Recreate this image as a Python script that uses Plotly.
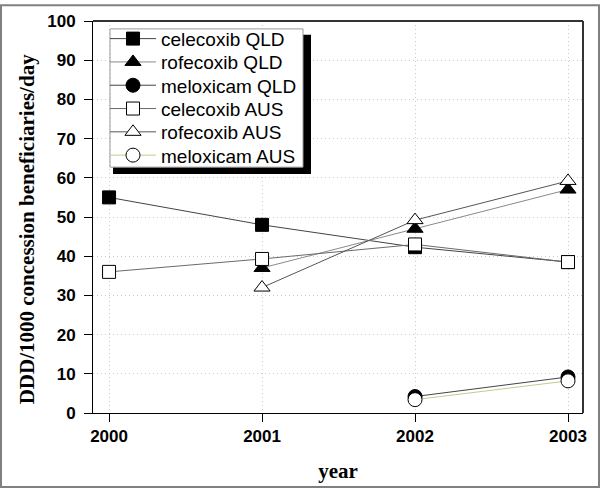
import plotly.graph_objects as go

years = [2000, 2001, 2002, 2003]

celecoxib_qld = [55, 48, 42.3, 38.5]
rofecoxib_qld = [None, 37, 47, 57]
meloxicam_qld = [None, None, 4.2, 9.2]
celecoxib_aus = [36, 39.3, 43, 38.5]
rofecoxib_aus = [None, 32, 49.2, 59.2]
meloxicam_aus = [None, None, 3.4, 8.2]

SANS = "Liberation Sans, Arial, sans-serif"
SERIF = "Liberation Serif, Times New Roman, serif"

# plot area in pixels (used to place shapes in paper coords)
L, R, T, B = 93, 583, 17, 414
W, H = 600, 490


def px_x(x):
    return (x - L) / (R - L)


def px_y(y):
    return (B - y) / (B - T)


def _series(y, name, symbol, fill, line_color, legend):
    return go.Scatter(
        x=years,
        y=y,
        name=name,
        legend=legend,
        mode="lines+markers",
        line={"color": line_color, "width": 1},
        marker={
            "symbol": symbol,
            "size": 13 if symbol == "square" else 14,
            "color": fill,
            "line": {"color": "black", "width": 1},
        },
    )


fig = go.Figure()
fig.add_trace(_series(celecoxib_qld, "celecoxib QLD", "square", "black", "#444444", "legend"))
fig.add_trace(_series(rofecoxib_qld, "rofecoxib QLD", "triangle-up", "black", "#8a8a8a", "legend2"))
fig.add_trace(_series(meloxicam_qld, "meloxicam QLD", "circle", "black", "#444444", "legend3"))
fig.add_trace(_series(celecoxib_aus, "celecoxib AUS", "square", "white", "#6a6a6a", "legend4"))
fig.add_trace(_series(rofecoxib_aus, "rofecoxib AUS", "triangle-up", "white", "#555555", "legend5"))
fig.add_trace(_series(meloxicam_aus, "meloxicam AUS", "circle", "white", "#c8c890", "legend6"))

shapes = [
    # legend shadow and box
    dict(type="rect", xref="paper", yref="paper",
         x0=px_x(113), x1=px_x(311), y0=px_y(172), y1=px_y(31),
         fillcolor="black", line={"width": 0}),
    dict(type="rect", xref="paper", yref="paper",
         x0=px_x(110), x1=px_x(303), y0=px_y(165), y1=px_y(25),
         fillcolor="white", line={"color": "#999999", "width": 1}),
    # top and right frame
    dict(type="line", xref="paper", yref="paper", x0=0, x1=1, y0=1, y1=1,
         line={"color": "#333333", "width": 2}),
    dict(type="line", xref="paper", yref="paper", x0=1, x1=1, y0=0, y1=1,
         line={"color": "#333333", "width": 2}),
    # image border
    dict(type="rect", xref="paper", yref="paper",
         x0=px_x(1), x1=px_x(W - 1), y0=px_y(H - 1), y1=px_y(1),
         line={"color": "#808080", "width": 2}),
]

# one legend per entry so the row spacing can follow the original
legends = {}
for i, key in enumerate(["legend", "legend2", "legend3", "legend4", "legend5", "legend6"]):
    legends[key] = {
        "x": px_x(105),
        "y": px_y(35 + i * 23.6),
        "xanchor": "left",
        "yanchor": "middle",
        "bgcolor": "rgba(0,0,0,0)",
        "borderwidth": 0,
        "itemwidth": 46,
        "font": {"family": SANS, "size": 19, "color": "black"},
    }

fig.update_layout(
    width=W,
    height=H,
    margin={"l": L, "r": W - R, "t": T, "b": H - B},
    paper_bgcolor="white",
    plot_bgcolor="white",
    font={"family": SANS, "color": "black"},
    shapes=shapes,
    showlegend=True,
    annotations=[
        dict(text="<b>DDD/1000 concession beneficiaries/day</b>",
             xref="paper", yref="paper", x=px_x(27), y=px_y(228),
             xanchor="center", yanchor="middle", textangle=-90,
             showarrow=False, font={"family": SERIF, "size": 21, "color": "black"}),
    ],
    **legends,
)
fig.update_xaxes(
    range=[1999.895, 2003.098],
    tickvals=years,
    ticks="outside",
    ticklen=8,
    tickcolor="black",
    showline=True,
    linecolor="black",
    linewidth=1,
    showgrid=True,
    gridcolor="#cccccc",
    griddash="1px,3px",
    zeroline=False,
    tickfont={"family": SANS, "size": 17, "color": "black", "weight": "bold"},
    title={"text": "<b>year</b>", "font": {"family": SERIF, "size": 21}, "standoff": 17},
)
fig.update_yaxes(
    range=[0, 100],
    dtick=10,
    ticks="outside",
    ticklen=8,
    tickcolor="black",
    showline=True,
    linecolor="black",
    linewidth=1,
    showgrid=True,
    gridcolor="#cccccc",
    griddash="1px,3px",
    zeroline=False,
    ticklabelstandoff=5,
    tickfont={"family": SANS, "size": 17, "color": "black", "weight": "bold"},
)

fig.write_html(
    "out.html",
    config={"displayModeBar": False},
    post_script="document.body.style.margin = '0';",
)
